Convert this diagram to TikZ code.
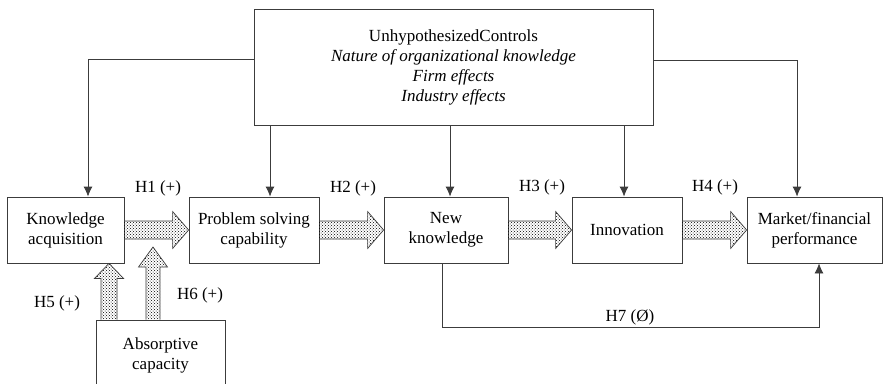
\documentclass[tikz,border=0pt]{standalone}
\usepackage{fontspec}
\setmainfont{Liberation Serif}
\usetikzlibrary{arrows.meta,patterns,calc}
\definecolor{ink}{RGB}{60,60,60}
\begin{document}
\begin{tikzpicture}[x=1pt,y=-1pt,
  every node/.style={font=\fontsize{17}{20}\selectfont},
  box/.style={draw=ink,line width=0.8pt,align=center,inner sep=0pt,minimum height=66pt},
  conn/.style={draw=ink,line width=0.8pt,-{Latex[length=10pt,width=9pt]}},
  fat/.style={draw=ink,line width=0.7pt,pattern=crosshatch dots,pattern color=black,line join=miter},
  hlabel/.style={inner sep=0pt}]
\useasboundingbox (0,0) rectangle (885,383);
\clip (0,0) rectangle (885,383);

% controls box
\node[box,minimum width=399pt,minimum height=116pt] (top) at (453.5,67)
  {UnhypothesizedControls\\\textit{Nature of organizational knowledge}\\\textit{Firm effects}\\\textit{Industry effects}};

% main chain
\node[box,minimum width=117pt] (ka)  at (65.5,230) {Knowledge\\acquisition};
\node[box,minimum width=130pt] (ps)  at (254,230)  {Problem solving\\capability};
\node[box,minimum width=124pt] (nk)  at (446,230)  {New\\knowledge};
\node[box,minimum width=110pt] (inn) at (627,230)  {Innovation};
\node[box,minimum width=135pt] (mk)  at (814.5,230) {Market/financial\\performance};
\node[box,minimum width=129pt,minimum height=70pt] (abs) at (160.5,355) {Absorptive\\capacity};

% control links
\coordinate (lc) at (88,59);
\coordinate (rc) at (797,60);
\coordinate (c1) at (270,0);
\coordinate (c2) at (450,0);
\coordinate (c3) at (624,0);
\draw[conn] (top.west |- lc) -- (lc) -- (ka.north -| lc);
\draw[conn] (top.east |- rc) -- (rc) -- (mk.north -| rc);
\draw[conn] (top.south -| c1) -- (ps.north -| c1);
\draw[conn] (top.south -| c2) -- (nk.north -| c2);
\draw[conn] (top.south -| c3) -- (inn.north -| c3);

% horizontal block arrows
\newcommand{\hblock}[2]{%
  \draw[fat] ($(#1.east)+(0,-9)$) -- ($(#2.west)+(-16,-9)$) -- ($(#2.west)+(-16,-18.5)$)
    -- (#2.west) -- ($(#2.west)+(-16,18.5)$) -- ($(#2.west)+(-16,9)$) -- ($(#1.east)+(0,9)$);}
\hblock{ka}{ps}
\hblock{ps}{nk}
\hblock{nk}{inn}
\hblock{inn}{mk}

% vertical block arrows from absorptive capacity
\coordinate (h5) at (109,0);
\coordinate (h6tip) at (153,247);
\draw[fat] ($(abs.north -| h5)+(-8,0)$) -- ($(ka.south -| h5)+(-8,15)$) -- ($(ka.south -| h5)+(-14.5,15)$)
  -- (ka.south -| h5) -- ($(ka.south -| h5)+(14.5,15)$) -- ($(ka.south -| h5)+(8,15)$) -- ($(abs.north -| h5)+(8,0)$);
\draw[fat] ($(abs.north -| h6tip)+(-7,0)$) -- ($(h6tip)+(-7,20)$) -- ($(h6tip)+(-14.5,20)$)
  -- (h6tip) -- ($(h6tip)+(14.5,20)$) -- ($(h6tip)+(7,20)$) -- ($(abs.north -| h6tip)+(7,0)$);

% direct link
\coordinate (h7l) at (442,327);
\coordinate (h7r) at (819,327);
\draw[conn] (nk.south -| h7l) -- (h7l) -- (h7r) -- (mk.south -| h7r);

% hypothesis labels
\node[hlabel] (l1) at (158,188) {H1 (+)};
\node[hlabel] (l2) at (353,188) {H2 (+)};
\node[hlabel] (l3) at (542,187) {H3 (+)};
\node[hlabel] (l4) at (715,187) {H4 (+)};
\node[hlabel] (l5) at (57,303)  {H5 (+)};
\node[hlabel] (l6) at (200,295) {H6 (+)};
\node[hlabel] (l7) at (630,317) {H7 (Ø)};
\end{tikzpicture}
\end{document}
